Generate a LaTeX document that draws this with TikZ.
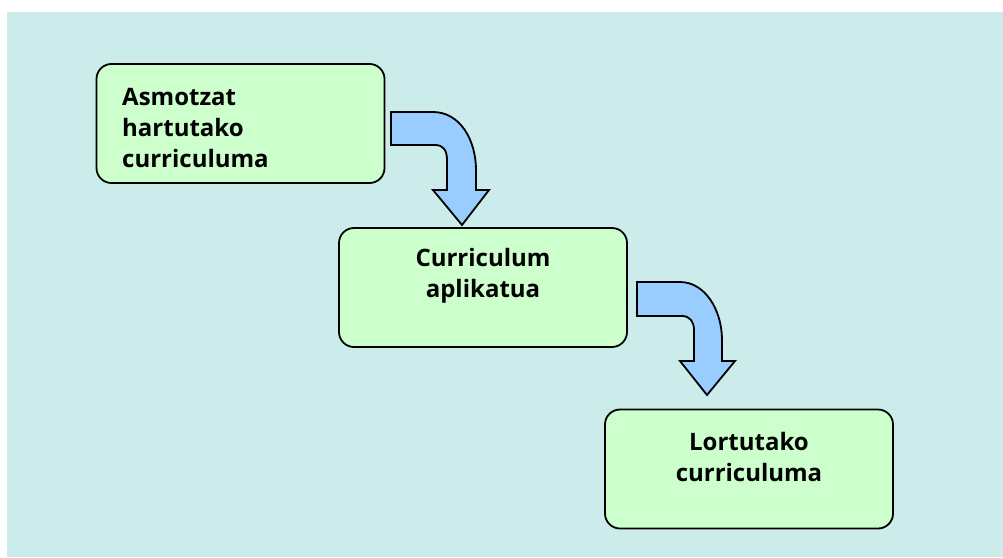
\documentclass[tikz,border=0pt]{standalone}
\usepackage{fontspec}
\setmainfont{Open Sans}
\definecolor{bgc}{RGB}{204,236,236}
\definecolor{boxg}{RGB}{204,255,204}
\definecolor{arrb}{RGB}{153,204,255}
\tikzset{
  stagebox/.style={draw=black, line width=1.8pt, fill=boxg, rounded corners=15pt, minimum width=288pt, minimum height=119pt, inner sep=0pt},
  stagetext/.style={font=\fontsize{24}{31}\selectfont\bfseries, inner sep=0pt},
  bentarrow/.style={draw=black, line width=1.8pt, fill=arrb, line join=miter}
}
\begin{document}
\begin{tikzpicture}[x=1pt,y=-1pt]
\useasboundingbox (0,0) rectangle (1003,557);
\fill[bgc] (7,12) rectangle (1003,557);
% boxes
\node[stagebox] (b1) at (240.5,123.5) {};
\node[stagetext, align=left, anchor=west] (t1) at (122,128) {Asmotzat\\hartutako\\curriculuma};
\node[stagebox] (b2) at (483,287.5) {};
\node[stagetext, align=center] (t2) at (483,276) {Curriculum\\aplikatua};
\node[stagebox] (b3) at (749,469) {};
\node[stagetext, align=center] (t3) at (749,457) {Lortutako\\curriculuma};
% bent arrows
\draw[bentarrow] (391,112) -- (433,112) .. controls (460,112) and (476,140) .. (476,170)
  -- (476,190) -- (489,190) -- (462,225) -- (433,190) -- (447,190) -- (447,160)
  .. controls (447,150) and (443,145) .. (435,145) -- (391,145) -- cycle;
\draw[bentarrow] (637,282) -- (680,282) .. controls (705,282) and (722,310) .. (722,340)
  -- (722,361) -- (735,361) -- (707,395) -- (680,361) -- (694,361) -- (694,330)
  .. controls (694,322) and (690,316) .. (682,316) -- (637,316) -- cycle;
\end{tikzpicture}
\end{document}
